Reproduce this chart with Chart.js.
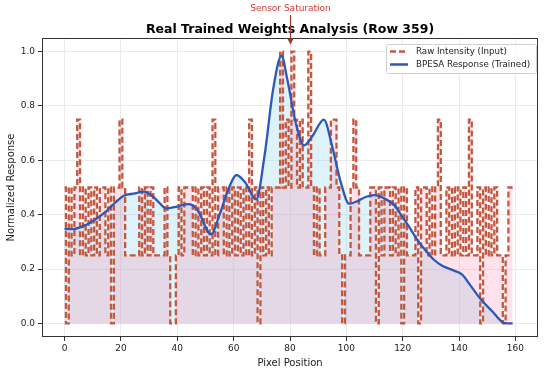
<!DOCTYPE html>
<html>
<head>
<meta charset="utf-8">
<script src="https://cdn.jsdelivr.net/npm/chart.js@4.4.1/dist/chart.umd.min.js"></script>
<style>
html,body{margin:0;padding:0;background:#fff;}
#wrap{width:550px;height:369px;position:relative;}
</style>
</head>
<body>
<div id="wrap"><canvas id="c" width="550" height="369"></canvas></div>
<script>
// ---- data ----
const pixelPositions = Array.from({length: 160}, (_, i) => i);
const rawIntensity = [
  0.5, 0, 0.5, 0.25, 0.5, 0.75, 0.25, 0.5, 0.25, 0.5,
  0.25, 0.5, 0.25, 0.5, 0.5, 0.25, 0.5, 0, 0.5, 0.5,
  0.75, 0.5, 0.25, 0.25, 0.25, 0.25, 0.25, 0.5, 0.25, 0.5,
  0.25, 0.5, 0.25, 0.25, 0.25, 0.25, 0.5, 0.25, 0, 0,
  0.25, 0.5, 0.25, 0.5, 0.5, 0.5, 0.25, 0.5, 0.25, 0.5,
  0.25, 0.5, 0.25, 0.75, 0.25, 0.5, 0.5, 0.25, 0.5, 0.25,
  0.5, 0.25, 0.5, 0.25, 0.5, 0.25, 0.75, 0.25, 0.5, 0,
  0.5, 0.25, 0.5, 0.25, 0.5, 0.5, 0.5, 1.0, 0.5, 0.75,
  0.5, 1.0, 0.75, 0.5, 0.75, 0.5, 0.5, 1.0, 0.5, 0.25,
  0.5, 0.25, 0.25, 0.5, 0.5, 0.75, 0.75, 0.5, 0.25, 0,
  0.25, 0.25, 0.5, 0.75, 0.5, 0.25, 0.25, 0.25, 0.25, 0.5,
  0.5, 0, 0.5, 0.25, 0.5, 0.5, 0.25, 0.5, 0.25, 0.5,
  0, 0.5, 0.25, 0.25, 0.25, 0.5, 0, 0.5, 0.5, 0.25,
  0.5, 0.25, 0.5, 0.75, 0.25, 0.25, 0.5, 0.25, 0.5, 0.25,
  0.5, 0.25, 0.5, 0.25, 0.75, 0.25, 0.25, 0.5, 0, 0.5,
  0.25, 0.5, 0.25, 0.5, 0.25, 0.25, 0, 0.25, 0.5, 0.5
];
const bpesaX = [0, 3, 8, 12, 15, 18, 21, 25, 28, 31, 34, 36, 40, 44, 47, 52, 55, 58, 61, 64,
  68, 71, 74, 77, 79, 82, 85, 88, 92, 95, 98, 101, 104, 107, 110, 113, 117, 120, 122, 125,
  128, 131, 134, 138, 141, 144, 148, 152, 155, 157, 159];
const bpesaResponse = [0.347, 0.347, 0.365, 0.39, 0.415, 0.445, 0.47, 0.478, 0.485, 0.47,
  0.44, 0.423, 0.43, 0.439, 0.42, 0.328, 0.40, 0.49, 0.546, 0.52,
  0.456, 0.62, 0.86, 0.985, 0.90, 0.74, 0.655, 0.69, 0.75, 0.65,
  0.52, 0.44, 0.45, 0.466, 0.472, 0.462, 0.435, 0.39, 0.36, 0.31,
  0.27, 0.235, 0.212, 0.195, 0.18, 0.14, 0.085, 0.042, 0.008, 0.0, 0.0];
const xTicks = [0, 20, 40, 60, 80, 100, 120, 140, 160];
const yTicks = [0.0, 0.2, 0.4, 0.6, 0.8, 1.0];
const saturationX = 80;

const FONT = "'DejaVu Sans', sans-serif";
const rawColor = '#c4583e';
const blueColor = '#2d58b8';

const rawPts = pixelPositions.map((x, i) => ({x: x, y: rawIntensity[i]}));
const bluePts = bpesaX.map((x, i) => ({x: x, y: bpesaResponse[i]}));

const decor = {
  id: 'decor',
  afterDraw(chart) {
    const ctx = chart.ctx, a = chart.chartArea;
    const xs = chart.scales.x, ys = chart.scales.y;
    ctx.save();
    ctx.strokeStyle = '#333';
    ctx.lineWidth = 1;
    ctx.strokeRect(a.left + 0.5, a.top + 0.5, a.right - a.left - 1, a.bottom - a.top - 1);
    ctx.fillStyle = '#000';
    ctx.font = "bold 12.5px " + FONT;
    ctx.textAlign = 'center';
    ctx.textBaseline = 'middle';
    ctx.fillText('Real Trained Weights Analysis (Row 359)', (a.left + a.right) / 2, 30);
    const px = Math.round(xs.getPixelForValue(saturationX)) + 0.5;
    const tipY = ys.getPixelForValue(1.025);
    ctx.strokeStyle = '#9a3b34';
    ctx.fillStyle = '#9a3b34';
    ctx.lineWidth = 1.2;
    ctx.beginPath();
    ctx.moveTo(px, 15);
    ctx.lineTo(px, tipY - 5);
    ctx.stroke();
    ctx.beginPath();
    ctx.moveTo(px, tipY);
    ctx.lineTo(px - 3, tipY - 6);
    ctx.lineTo(px + 3, tipY - 6);
    ctx.closePath();
    ctx.fill();
    ctx.fillStyle = '#d03a32';
    ctx.font = "9px " + FONT;
    ctx.fillText('Sensor Saturation', px, 8.5);
    const lx = 386, ly = 44, lw = 150, lh = 29;
    ctx.fillStyle = 'rgba(255,255,255,0.85)';
    ctx.strokeStyle = '#d0d0d0';
    ctx.lineWidth = 1;
    ctx.beginPath();
    ctx.roundRect(lx + 0.5, ly + 0.5, lw, lh, 2);
    ctx.fill();
    ctx.stroke();
    ctx.lineWidth = 2.5;
    ctx.strokeStyle = rawColor;
    ctx.setLineDash([6, 3]);
    ctx.beginPath();
    ctx.moveTo(390, 51.5); ctx.lineTo(408, 51.5);
    ctx.stroke();
    ctx.setLineDash([]);
    ctx.strokeStyle = blueColor;
    ctx.beginPath();
    ctx.moveTo(390, 64.5); ctx.lineTo(408, 64.5);
    ctx.stroke();
    ctx.fillStyle = '#222';
    ctx.font = "8.7px " + FONT;
    ctx.textAlign = 'left';
    ctx.fillText('Raw Intensity (Input)', 416, 51.5);
    ctx.fillText('BPESA Response (Trained)', 416, 64.5);
    ctx.restore();
  }
};

new Chart(document.getElementById('c'), {
  type: 'line',
  data: {
    datasets: [
      {
        label: 'BPESA Response (Trained)',
        data: bluePts,
        borderColor: blueColor,
        borderWidth: 2.3,
        fill: false,
        pointRadius: 0,
        cubicInterpolationMode: 'monotone',
        order: 0
      },
      {
        label: 'Raw Intensity (Input)',
        data: rawPts,
        borderColor: rawColor,
        borderWidth: 2.3,
        borderDash: [6, 3],
        backgroundColor: 'rgba(255,110,160,0.2)',
        fill: 'origin',
        stepped: 'middle',
        pointRadius: 0,
        order: 1
      },
      {
        label: 'BPESA fill',
        data: bluePts,
        borderWidth: 0,
        borderColor: 'rgba(0,0,0,0)',
        backgroundColor: 'rgba(150,215,235,0.32)',
        fill: 'origin',
        pointRadius: 0,
        cubicInterpolationMode: 'monotone',
        order: 2
      }
    ]
  },
  options: {
    responsive: false,
    animation: false,
    layout: {padding: {top: 38, right: 12, left: 5, bottom: 0}},
    plugins: {legend: {display: false}, title: {display: false}, tooltip: {enabled: false}},
    scales: {
      x: {
        type: 'linear',
        min: -8, max: 168,
        afterBuildTicks: s => { s.ticks = xTicks.map(v => ({value: v})); },
        afterFit: s => { s.height = 32; },
        grid: {color: '#ebebeb', tickColor: '#333', tickLength: 4, drawTicks: true},
        border: {display: false},
        ticks: {font: {family: FONT, size: 9}, color: '#222', padding: 2, maxRotation: 0,
          callback: v => String(v)},
        title: {display: true, text: 'Pixel Position', font: {family: FONT, size: 10}, color: '#222',
          padding: {top: 0, bottom: 0}}
      },
      y: {
        min: -0.05, max: 1.05,
        afterBuildTicks: s => { s.ticks = yTicks.map(v => ({value: v})); },
        afterFit: s => { s.width = 37; },
        grid: {color: '#ebebeb', tickColor: '#333', tickLength: 4, drawTicks: true},
        border: {display: false},
        ticks: {font: {family: FONT, size: 9}, color: '#222', padding: 3,
          callback: v => Number(v).toFixed(1)},
        title: {display: true, text: 'Normalized Response', font: {family: FONT, size: 10}, color: '#222',
          padding: {top: 0, bottom: 0}}
      }
    }
  },
  plugins: [decor]
});
</script>
</body>
</html>
